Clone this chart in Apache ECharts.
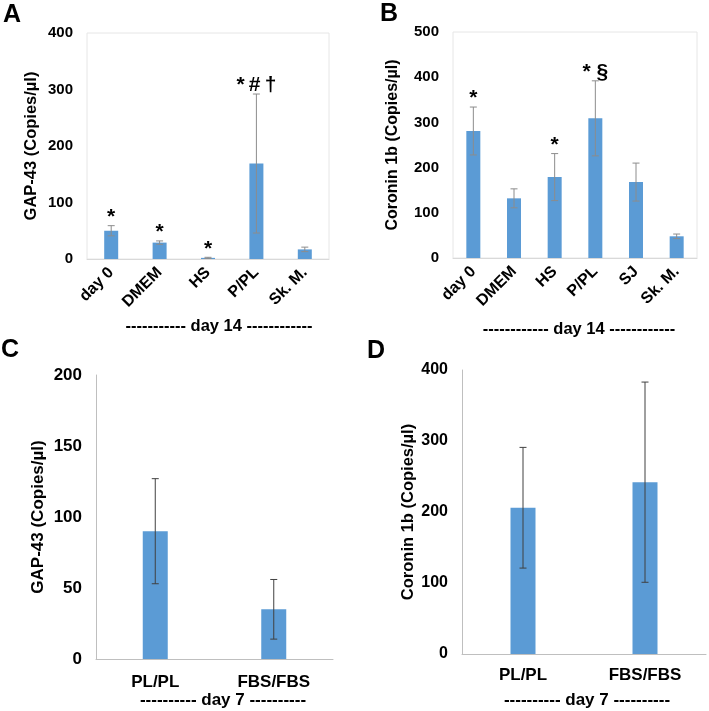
<!DOCTYPE html>
<html>
<head>
<meta charset="utf-8">
<script src="https://cdn.jsdelivr.net/npm/echarts@6/dist/echarts.min.js"></script>
<style>
html,body{margin:0;padding:0;background:#fff;}
#chart{width:709px;height:711px;}
</style>
</head>
<body>
<div id="chart"></div>
<script>
// Panel A: GAP-43, day 14
const catsA = ['day 0', 'DMEM', 'HS', 'P/PL', 'Sk. M.'];
const valsA = [50, 29, 2, 169, 17];
const errA = [9, 3, 1, 123, 4];
const marksA = ['*', '*', '*', '*\u2009#\u2009\u2020', ''];
const ticksA = [0, 100, 200, 300, 400];

// Panel B: Coronin 1b, day 14
const catsB = ['day 0', 'DMEM', 'HS', 'P/PL', 'SJ', 'Sk. M.'];
const valsB = [281, 132, 179, 309, 168, 48];
const errB = [53, 21, 52, 83, 42, 5];
const marksB = ['*', '', '*', '* \u00a7', '', ''];
const ticksB = [0, 100, 200, 300, 400, 500];

// Panel C: GAP-43, day 7
const catsC = ['PL/PL', 'FBS/FBS'];
const valsC = [90, 35];
const errC = [37, 21];
const ticksC = [0, 50, 100, 150, 200];

// Panel D: Coronin 1b, day 7
const catsD = ['PL/PL', 'FBS/FBS'];
const valsD = [206, 242];
const errD = [85, 141];
const ticksD = [0, 100, 200, 300, 400];

const FONT = 'Arial, "Liberation Sans", sans-serif';
const BAR = '#5b9bd5';

const chart = echarts.init(document.getElementById('chart'));

function errSeries(idx, vals, errs, color, cap) {
  return {
    type: 'custom',
    xAxisIndex: idx, yAxisIndex: idx,
    z: 5,
    data: vals.map((v, i) => [i, v - errs[i], v + errs[i]]),
    renderItem: function (params, api) {
      const lo = api.coord([api.value(0), api.value(1)]);
      const hi = api.coord([api.value(0), api.value(2)]);
      const x = lo[0];
      const st = { stroke: color, lineWidth: 1 };
      return {
        type: 'group',
        children: [
          { type: 'line', shape: { x1: x, y1: lo[1], x2: x, y2: hi[1] }, style: st },
          { type: 'line', shape: { x1: x - cap, y1: hi[1], x2: x + cap, y2: hi[1] }, style: st },
          { type: 'line', shape: { x1: x - cap, y1: lo[1], x2: x + cap, y2: lo[1] }, style: st }
        ]
      };
    }
  };
}

function markSeries(idx, vals, errs, marks) {
  return {
    type: 'custom',
    xAxisIndex: idx, yAxisIndex: idx,
    z: 6,
    data: vals.map((v, i) => [i, v + errs[i]]),
    renderItem: function (params, api) {
      const i = params.dataIndex;
      const p = api.coord([api.value(0), api.value(1)]);
      return {
        type: 'text',
        x: p[0], y: p[1] + 2,
        style: {
          text: marks[i], fill: '#000',
          font: 'bold 21px ' + FONT,
          align: 'center', verticalAlign: 'bottom'
        }
      };
    }
  };
}

function yAx(idx, max, interval, name, gap, axisLineColor, labelSize, nameSize) {
  return {
    type: 'value', gridIndex: idx, min: 0, max: max, interval: interval,
    name: name, nameLocation: 'middle', nameGap: gap, nameRotate: 90,
    nameTextStyle: { fontFamily: FONT, fontWeight: 'bold', fontSize: nameSize, color: '#000' },
    axisLabel: { fontFamily: FONT, fontWeight: 'bold', fontSize: labelSize, color: '#000', margin: 14 },
    axisLine: { show: !!axisLineColor, lineStyle: { color: axisLineColor || '#ccc', width: 1 } },
    axisTick: { show: false },
    splitLine: { show: false }
  };
}

function xAx(idx, cats, rotate, margin, lineColor, size) {
  return {
    type: 'category', gridIndex: idx, data: cats,
    axisLabel: { fontFamily: FONT, fontWeight: 'bold', fontSize: size, color: '#000', rotate: rotate, margin: margin, interval: 0 },
    axisLine: { show: true, lineStyle: { color: lineColor, width: 1 } },
    axisTick: { show: false },
    splitLine: { show: false }
  };
}

function bar(idx, vals, width) {
  return {
    type: 'bar', xAxisIndex: idx, yAxisIndex: idx, data: vals,
    barWidth: width, itemStyle: { color: BAR }, silent: true
  };
}

const textStyle = (t, x, y, size) => ({
  type: 'text', x: x, y: y,
  style: { text: t, font: 'bold ' + size + 'px ' + FONT, fill: '#000', align: 'center', verticalAlign: 'middle' }
});

chart.setOption({
  animation: false,
  backgroundColor: '#fff',
  grid: [
    { left: 87, top: 33, width: 242, height: 226, show: true, borderColor: '#e6e6e6', borderWidth: 1, containLabel: false },
    { left: 453, top: 32, width: 244, height: 226, show: true, borderColor: '#e6e6e6', borderWidth: 1, containLabel: false },
    { left: 96, top: 375, width: 237, height: 284, containLabel: false },
    { left: 462, top: 370, width: 244, height: 284, containLabel: false }
  ],
  xAxis: [
    xAx(0, catsA, 45, 11, '#d9d9d9', 16),
    xAx(1, catsB, 45, 11, '#d9d9d9', 16),
    xAx(2, catsC, 0, 15, '#bfbfbf', 17),
    xAx(3, catsD, 0, 13, '#bfbfbf', 17)
  ],
  yAxis: [
    yAx(0, 400, 100, 'GAP-43 (Copies/\u00b5l)', 47, null, 15, 16.5),
    yAx(1, 500, 100, 'Coronin 1b (Copies/\u00b5l)', 52, null, 15, 16),
    yAx(2, 200, 50, 'GAP-43 (Copies/\u00b5l)', 49, '#bfbfbf', 17, 17),
    yAx(3, 400, 100, 'Coronin 1b (Copies/\u00b5l)', 44, '#bfbfbf', 16, 16.5)
  ],
  series: [
    bar(0, valsA, 14), errSeries(0, valsA, errA, '#8c8c8c', 3.5), markSeries(0, valsA, errA, marksA),
    bar(1, valsB, 14), errSeries(1, valsB, errB, '#8c8c8c', 3.5), markSeries(1, valsB, errB, marksB),
    bar(2, valsC, 25), errSeries(2, valsC, errC, '#404040', 3.5),
    bar(3, valsD, 25), errSeries(3, valsD, errD, '#404040', 3.5)
  ],
  graphic: [
    textStyle('A', 12, 15, 25),
    textStyle('B', 389, 14, 25),
    textStyle('C', 10, 350, 25),
    textStyle('D', 376, 351, 25),
    textStyle('----------- day 14 ------------', 219, 326, 16.5),
    textStyle('------------ day 14 ------------', 579, 329, 16.5),
    textStyle('---------- day 7 ----------', 223, 700, 17),
    textStyle('---------- day 7 ----------', 587, 700, 17)
  ]
});
</script>
</body>
</html>
